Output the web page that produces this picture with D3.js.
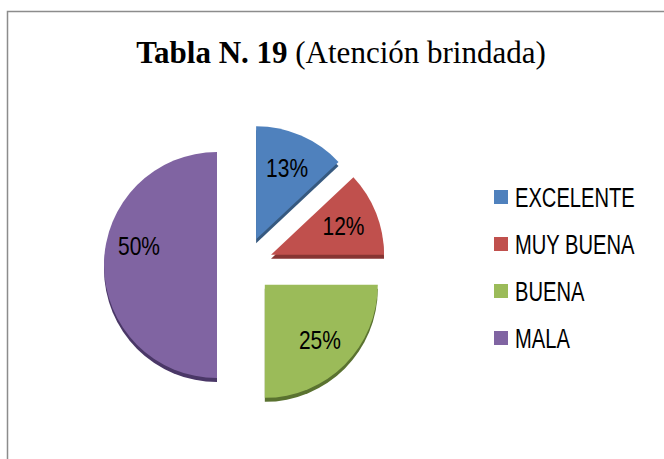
<!DOCTYPE html>
<html>
<head>
<meta charset="utf-8">
<script src="https://cdn.jsdelivr.net/npm/d3@7"></script>
<style>
  body { margin: 0; background: #fff; }
</style>
</head>
<body>
<div class="d3"></div>
<script>
const categories = ["EXCELENTE", "MUY BUENA", "BUENA", "MALA"];
const values = [13, 12, 25, 50];
const labels = ["13%", "12%", "25%", "50%"];
const colors = ["#4f81bd", "#c0504d", "#9bbb59", "#8064a2"];
const edgeColors = ["#36597f", "#873533", "#5a7230", "#4a3767"];

function main() {
    const width = 664, height = 459;
    const svg = d3.select(".d3")
        .append("svg")
        .attr("width", width)
        .attr("height", height);

    // chart frame (runs off the right and bottom of the picture)
    svg.append("rect")
        .attr("x", 7.5).attr("y", 11.5)
        .attr("width", 700).attr("height", 500)
        .attr("fill", "#fff")
        .attr("stroke", "#8c8c8c")
        .attr("stroke-width", 1.5);

    // title
    const title = svg.append("text")
        .attr("x", 341).attr("y", 63)
        .attr("text-anchor", "middle")
        .attr("font-family", "'Liberation Serif', 'Times New Roman', serif")
        .attr("font-size", 31)
        .attr("fill", "#000");
    title.append("tspan").attr("font-weight", "bold").text("Tabla N. 19");
    title.append("tspan").text(" (Atención brindada)");

    // pie
    const radius = 113, explode = 28, depth = 4;
    const cx = 245, cy = 265;
    const pie = d3.pie().sort(null)(values);
    const arc = d3.arc().innerRadius(0).outerRadius(radius);
    const labelArc = d3.arc().innerRadius(radius * 0.69).outerRadius(radius * 0.69);

    const g = svg.append("g").attr("transform", "translate(" + cx + "," + cy + ")");

    const slices = g.selectAll("g.slice")
        .data(pie)
        .enter()
        .append("g")
        .attr("class", "slice")
        .attr("transform", function (d) {
            const a = (d.startAngle + d.endAngle) / 2;
            return "translate(" + (Math.sin(a) * explode) + "," + (-Math.cos(a) * explode) + ")";
        });

    // side / depth
    slices.append("path")
        .attr("d", arc)
        .attr("transform", "translate(0," + depth + ")")
        .attr("fill", function (d, i) { return edgeColors[i]; });

    slices.append("path")
        .attr("d", arc)
        .attr("fill", function (d, i) { return colors[i]; });

    slices.append("g")
        .attr("transform", function (d) {
            const c = labelArc.centroid(d);
            // Excel lifts the label of the big half slice a little
            const lift = (d.endAngle - d.startAngle) > Math.PI * 0.9 ? -19 : 0;
            return "translate(" + c[0] + "," + (c[1] + lift) + ") scale(0.84,1)";
        })
        .append("text")
        .attr("text-anchor", "middle")
        .attr("dy", "0.36em")
        .attr("font-family", "'Liberation Sans', Arial, sans-serif")
        .attr("font-size", 25)
        .attr("fill", "#000")
        .text(function (d, i) { return labels[i]; });

    // legend
    const legendY = d3.scalePoint().domain(categories).range([197, 338]);
    const items = svg.selectAll("g.legend")
        .data(categories)
        .enter()
        .append("g")
        .attr("class", "legend")
        .attr("transform", function (d) { return "translate(494," + legendY(d) + ")"; });

    items.append("rect")
        .attr("x", 0).attr("y", -7)
        .attr("width", 14).attr("height", 14)
        .attr("fill", function (d, i) { return colors[i]; });

    items.append("g")
        .attr("transform", "translate(21,0) scale(0.72,1)")
        .append("text")
        .attr("dy", "0.36em")
        .attr("font-family", "'Liberation Sans', Arial, sans-serif")
        .attr("font-size", 28)
        .attr("fill", "#000")
        .text(function (d) { return d; });
}
main();
</script>
</body>
</html>
